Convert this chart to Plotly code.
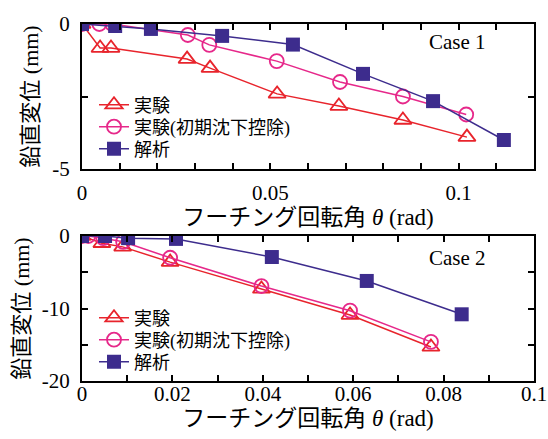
import plotly.graph_objects as go

# Case 1 data
c1_exp_x = [0, 0.0048, 0.0077, 0.0279, 0.034, 0.0518, 0.0682, 0.0852, 0.1022]
c1_exp_y = [0, -0.83, -0.83, -1.21, -1.52, -2.41, -2.83, -3.31, -3.9]
c1_cor_x = [0, 0.0046, 0.008, 0.0281, 0.0338, 0.0517, 0.0685, 0.0852, 0.102]
c1_cor_y = [0, 0, 0, -0.38, -0.72, -1.28, -2.0, -2.5, -3.12]
c1_ana_x = [0, 0.0088, 0.0183, 0.0372, 0.056, 0.0746, 0.0932, 0.112]
c1_ana_y = [0, -0.07, -0.17, -0.41, -0.71, -1.72, -2.66, -4.0]

# Case 2 data
c2_exp_x = [0, 0.0044, 0.009, 0.0195, 0.0397, 0.0593, 0.0772]
c2_exp_y = [0, -1.0, -1.5, -3.6, -7.3, -10.9, -15.3]
c2_cor_x = [0, 0.0014, 0.0047, 0.0091, 0.0195, 0.0397, 0.0593, 0.0772]
c2_cor_y = [0, 0, -0.3, -0.8, -3.0, -6.9, -10.3, -14.6]
c2_ana_x = [0, 0.0051, 0.0102, 0.0208, 0.042, 0.063, 0.084]
c2_ana_y = [0, 0, -0.3, -0.4, -2.9, -6.2, -10.8]

names = ["実験", "実験(初期沈下控除)", "解析"]
x1_ticks = [i / 100 for i in range(13)]
x1_text = ["0" if i == 0 else ("0.05" if i == 5 else ("0.1" if i == 10 else "")) for i in range(13)]
x2_ticks = [i / 100 for i in range(11)]
x2_text = ["0", "", "0.02", "", "0.04", "", "0.06", "", "0.08", "", "0.1"]
y1_ticks = [0, -2.5, -5]
y1_text = ["0", "", "-5"]
y2_ticks = [0, -5, -10, -15, -20]
y2_text = ["0", "", "-10", "", "-20"]

RED = "#e8242c"
PINK = "#e6288a"
PURPLE = "#3d2c8d"
FONT = "Liberation Serif, Noto Sans CJK JP"
H = 439.0

fig = go.Figure()

def add_case(ex, ey, cx, cy, ax, ay, xa, ya, legs):
    fig.add_trace(go.Scatter(x=ex, y=ey, name=names[0], mode="lines+markers", xaxis=xa, yaxis=ya, legend=legs[0],
                             line=dict(color=RED, width=1.5),
                             marker=dict(symbol="triangle-up-open", size=15, color=RED, line=dict(width=1.8))))
    fig.add_trace(go.Scatter(x=cx, y=cy, name=names[1], mode="lines+markers", xaxis=xa, yaxis=ya, legend=legs[1],
                             line=dict(color=PINK, width=1.5),
                             marker=dict(symbol="circle-open", size=14, color=PINK, line=dict(width=1.8))))
    fig.add_trace(go.Scatter(x=ax, y=ay, name=names[2], mode="lines+markers", xaxis=xa, yaxis=ya, legend=legs[2],
                             line=dict(color=PURPLE, width=1.5),
                             marker=dict(symbol="square", size=14, color=PURPLE)))

add_case(c1_exp_x, c1_exp_y, c1_cor_x, c1_cor_y, c1_ana_x, c1_ana_y, "x", "y", ["legend", "legend2", "legend3"])
add_case(c2_exp_x, c2_exp_y, c2_cor_x, c2_cor_y, c2_ana_x, c2_ana_y, "x2", "y2", ["legend4", "legend5", "legend6"])

ax_common = dict(showline=True, linecolor="black", linewidth=2, mirror="allticks", ticks="inside",
                 ticklen=6, tickwidth=1.5, tickcolor="black", showgrid=False, zeroline=False,
                 tickfont=dict(family=FONT, size=21, color="black"), tickmode="array", automargin=False)

def leg(ypix):
    return dict(x=(94 - 82) / 452.0, y=1 - ypix / H, xanchor="left", yanchor="middle", bgcolor="rgba(0,0,0,0)",
                font=dict(family=FONT, size=18, color="black"), borderwidth=0)

xtitle = "フーチング回転角 <i>θ</i> (rad)" + "\u00a0" * 4
ytitle = "鉛直変位 (mm)"

fig.update_layout(
    width=548, height=439,
    margin=dict(l=82, r=14, t=0, b=0),
    paper_bgcolor="white", plot_bgcolor="white",
    font=dict(family=FONT, color="black"),
    xaxis=dict(ax_common, domain=[0, 1], range=[0, 0.12], tickvals=x1_ticks, ticktext=x1_text, anchor="y",
               ticklabelstandoff=4, title=dict(text=xtitle, font=dict(size=23), standoff=3)),
    yaxis=dict(ax_common, domain=[1 - 169 / H, 1 - 24 / H], range=[-5, 0], tickvals=y1_ticks, ticktext=y1_text,
               anchor="x", ticklabelstandoff=6, title=dict(text=ytitle, font=dict(size=22), standoff=8)),
    xaxis2=dict(ax_common, domain=[0, 1], range=[0, 0.1], tickvals=x2_ticks, ticktext=x2_text, anchor="y2",
                ticklabelstandoff=-7, title=dict(text=xtitle, font=dict(size=23), standoff=3)),
    yaxis2=dict(ax_common, domain=[1 - 381 / H, 1 - 236 / H], range=[-20, 0], tickvals=y2_ticks, ticktext=y2_text,
                anchor="x2", ticklabelstandoff=6, title=dict(text=ytitle, font=dict(size=22), standoff=6)),
    legend=leg(105), legend2=leg(127), legend3=leg(149),
    legend4=leg(318), legend5=leg(340), legend6=leg(362),
    showlegend=True,
    annotations=[
        dict(text="Case 1", x=(488 - 82) / 452.0, y=1 - 42 / H, xref="paper", yref="paper", xanchor="right",
             yanchor="middle", showarrow=False, font=dict(family=FONT, size=21)),
        dict(text="Case 2", x=(488 - 82) / 452.0, y=1 - 258 / H, xref="paper", yref="paper", xanchor="right",
             yanchor="middle", showarrow=False, font=dict(family=FONT, size=21)),
    ],
)

fig.write_html("out.html")
